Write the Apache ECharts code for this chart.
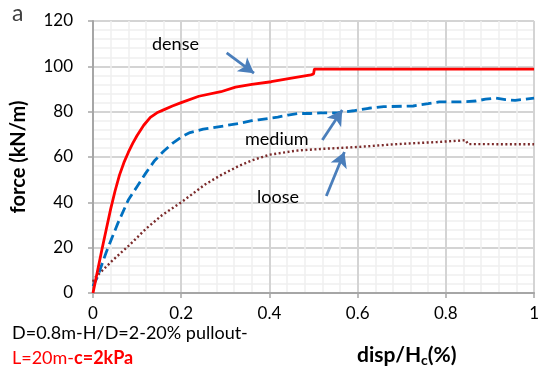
<!DOCTYPE html>
<html>
<head>
<meta charset="utf-8">
<script src="https://cdn.jsdelivr.net/npm/echarts@6/dist/echarts.min.js"></script>
<style>
html,body{margin:0;padding:0;background:#fff;}
#chart{width:542px;height:378px;}
</style>
</head>
<body>
<div id="chart"></div>
<script>
// displacement ratio (%) and pullout force (kN/m) for the three soil densities
const denseX  = [0, 0.01, 0.02, 0.03, 0.04, 0.05, 0.06, 0.07, 0.08, 0.09, 0.1, 0.115, 0.13, 0.145, 0.16, 0.18, 0.2, 0.24, 0.29, 0.323, 0.36, 0.404, 0.45, 0.494, 0.5, 0.502, 1.0];
const denseY  = [0, 9.5, 19, 28, 37, 45, 52, 57.5, 62, 66, 69.5, 74, 77.5, 79.5, 80.8, 82.5, 84, 86.8, 88.8, 90.8, 92, 93.2, 94.8, 96.2, 96.6, 98.8, 98.8];
const mediumX = [0, 0.01, 0.03, 0.056, 0.08, 0.1, 0.12, 0.14, 0.16, 0.18, 0.2, 0.22, 0.25, 0.3, 0.33, 0.36, 0.375, 0.419, 0.442, 0.464, 0.493, 0.516, 0.554, 0.591, 0.625, 0.659, 0.726, 0.76, 0.785, 0.83, 0.868, 0.89, 0.913, 0.935, 0.957, 0.98, 1.0];
const mediumY = [3, 7, 18, 30.6, 41, 47, 53, 58.5, 62.5, 66, 68.8, 70.8, 72.3, 73.8, 74.8, 76, 76.4, 77.6, 78.5, 79.2, 79.2, 79.5, 79.5, 80.4, 81.5, 82.2, 82.5, 83.5, 84.3, 84.3, 84.7, 85.5, 86, 85.3, 85, 85.5, 86];
const looseX  = [0, 0.004, 0.045, 0.083, 0.121, 0.157, 0.2, 0.255, 0.29, 0.33, 0.36, 0.4, 0.46, 0.52, 0.6, 0.69, 0.78, 0.845, 0.85, 1.0];
const looseY  = [5, 6.6, 14.5, 21.2, 28.5, 34.4, 40, 48, 52, 56, 58.5, 61, 62.8, 63.6, 64.4, 65.7, 66.6, 67.4, 65.7, 65.6];

const xTicks = [0, 0.2, 0.4, 0.6, 0.8, 1];
const yTicks = [0, 20, 40, 60, 80, 100, 120];

// annotation arrows: [tailX, tailY, headX, headY] in data units
const arrows = [
  [0.303, 105.9, 0.365, 97.0],
  [0.52, 67.5, 0.565, 80.7],
  [0.529, 42.8, 0.57, 62.2]
];

const pair = (xs, ys) => xs.map((x, i) => [x, ys[i]]);
const font = 'Lato, "Open Sans", sans-serif';

const chart = echarts.init(document.getElementById('chart'));
chart.setOption({
  animation: false,
  grid: { left: 93, right: 3, top: 21, bottom: 85 },
  xAxis: {
    type: 'value', min: xTicks[0], max: xTicks[xTicks.length - 1], interval: 0.2,
    axisLine: { show: true, onZero: false, lineStyle: { color: '#a6a6a6', width: 2 } },
    axisTick: { show: true, length: 5, lineStyle: { color: '#a6a6a6', width: 1.5 } },
    axisLabel: { color: '#000', fontSize: 17, fontFamily: font, margin: 12,
      formatter: v => String(+v.toFixed(1)) },
    splitLine: { show: true, lineStyle: { color: '#d4d4d4', width: 2 } },
    minorTick: { show: false, splitNumber: 5 },
    minorSplitLine: { show: true, lineStyle: { color: '#f0f0f0', width: 1.5 } }
  },
  yAxis: {
    type: 'value', min: yTicks[0], max: yTicks[yTicks.length - 1], interval: 20,
    name: 'force (kN/m)', nameLocation: 'middle', nameGap: 64,
    nameTextStyle: { fontSize: 20, fontWeight: 'bold', color: '#000', fontFamily: font },
    axisLine: { show: true, lineStyle: { color: '#a6a6a6', width: 2 } },
    axisTick: { show: true, length: 5, lineStyle: { color: '#a6a6a6', width: 1.5 } },
    axisLabel: { color: '#000', fontSize: 17, fontFamily: font, margin: 20 },
    splitLine: { show: true, lineStyle: { color: '#d4d4d4', width: 2 } },
    minorTick: { show: false, splitNumber: 5 },
    minorSplitLine: { show: true, lineStyle: { color: '#f0f0f0', width: 1.5 } }
  },
  series: [
    { name: 'loose', type: 'line', data: pair(looseX, looseY), showSymbol: false,
      smooth: false,
      lineStyle: { color: '#7b2b2b', width: 2.4, type: [2, 2.5] }, z: 3 },
    { name: 'medium', type: 'line', data: pair(mediumX, mediumY), showSymbol: false,
      smooth: false,
      lineStyle: { color: '#0070c0', width: 2.8, type: [10, 5] }, z: 4 },
    { name: 'dense', type: 'line', data: pair(denseX, denseY), showSymbol: false,
      smooth: false,
      lineStyle: { color: '#ff0000', width: 2.8 }, z: 5,
      markLine: {
        silent: true, symbol: ['none', 'arrow'], symbolSize: [13, 15],
        lineStyle: { color: '#4a7ebb', width: 2.8, type: 'solid' },
        label: { show: false },
        data: arrows.map(a => [{ coord: [a[0], a[1]] }, { coord: [a[2], a[3]] }])
      }
    }
  ],
  graphic: [
    { type: 'text', z: 100, left: 12, top: 2, style: { text: 'a', fontSize: 23, fill: '#404040', fontFamily: font } },
    { type: 'text', z: 100, left: 152, top: 35, style: { text: 'dense', fontSize: 18, fill: '#000', fontFamily: font } },
    { type: 'text', z: 100, left: 245, top: 130, style: { text: 'medium', fontSize: 18, fill: '#000', fontFamily: font } },
    { type: 'text', z: 100, left: 257, top: 188, style: { text: 'loose', fontSize: 18, fill: '#000', fontFamily: font } },
    { type: 'text', z: 100, left: 12, top: 324, style: { text: 'D=0.8m-H/D=2-20% pullout-', fontSize: 18, fill: '#000', fontFamily: font } },
    { type: 'text', z: 100, left: 12, top: 349, style: {
        text: '{n|L=20m-}{b|c=2kPa}', fontFamily: font,
        rich: { n: { fontSize: 18, fill: '#ff0000', fontFamily: font },
                b: { fontSize: 18, fill: '#ff0000', fontWeight: 'bold', fontFamily: font } } } },
    { type: 'text', z: 100, left: 357, top: 345, style: {
        text: '{m|disp/H}{s|c}{m|(%)}', fontFamily: font,
        rich: { m: { fontSize: 21, fontWeight: 'bold', fill: '#000', fontFamily: font },
                s: { fontSize: 14, fontWeight: 'bold', fill: '#000', fontFamily: font, padding: [10, 0, 0, 0] } } } }
  ]
});
</script>
</body>
</html>
